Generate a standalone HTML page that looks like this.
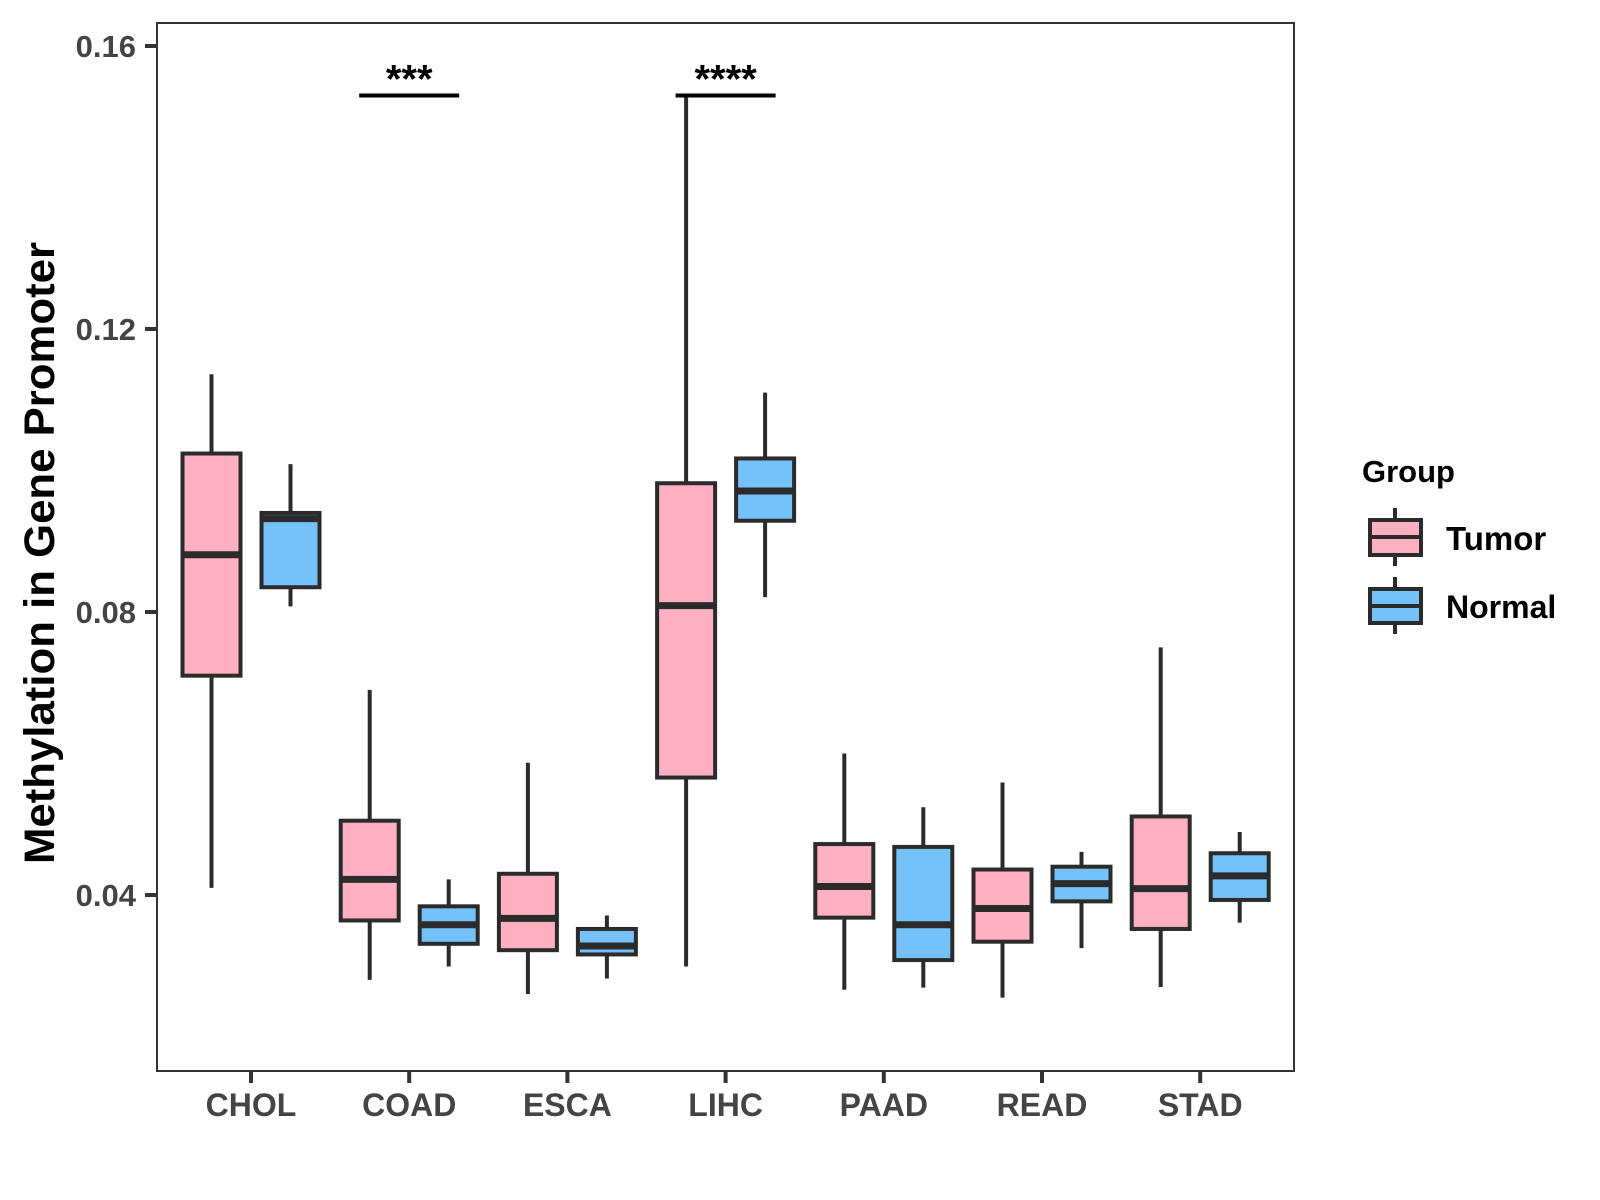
<!DOCTYPE html>
<html><head><meta charset="utf-8"><style>body{margin:0;background:#fff}svg{display:block;font-family:"Liberation Sans",Arial,sans-serif}</style></head>
<body>
<svg id="chart" width="1600" height="1200">
<rect x="0" y="0" width="1600" height="1200" fill="#fff"/>
<g id="marks"></g>
<rect x="157" y="23" width="1137" height="1048" fill="none" stroke="#333" stroke-width="2"/>
<g id="axes"></g>
<text x="54" y="553" transform="rotate(-90 54 553)" text-anchor="middle" font-size="43" font-weight="bold" fill="#000" textLength="622" lengthAdjust="spacingAndGlyphs">Methylation in Gene Promoter</text>
<g>
<text x="1362" y="482" font-size="31" font-weight="bold">Group</text>
<g>
<line x1="1395" y1="508" x2="1395" y2="566" stroke="#2b2b2b" stroke-width="4"/>
<rect x="1370" y="520" width="51" height="35" fill="#FFB0C1" stroke="#2b2b2b" stroke-width="4"/>
<line x1="1370" y1="537" x2="1421" y2="537" stroke="#2b2b2b" stroke-width="4"/>
<text x="1446" y="550" font-size="33" font-weight="bold">Tumor</text></g>
<g>
<line x1="1395" y1="577" x2="1395" y2="634" stroke="#2b2b2b" stroke-width="4"/>
<rect x="1370" y="589" width="51" height="34" fill="#75C1F9" stroke="#2b2b2b" stroke-width="4"/>
<line x1="1370" y1="606" x2="1421" y2="606" stroke="#2b2b2b" stroke-width="4"/>
<text x="1446" y="618" font-size="32" font-weight="bold">Normal</text></g>
</g>
</svg>
<script>
const categories=["CHOL","COAD","ESCA","LIHC","PAAD","READ","STAD"];
// [lowerWhisker, Q1, median, Q3, upperWhisker]
const tumorStats=[[0.0410,0.0710,0.0881,0.1024,0.1136],[0.0280,0.0364,0.0422,0.0505,0.0690],[0.0260,0.0322,0.0367,0.0430,0.0587],[0.0299,0.0566,0.0809,0.0982,0.1532],[0.0266,0.0368,0.0412,0.0472,0.0600],[0.0255,0.0334,0.0381,0.0436,0.0559],[0.0270,0.0352,0.0409,0.0511,0.0750]];
const normalStats=[[0.0808,0.0835,0.0932,0.0940,0.1009],[0.0299,0.0331,0.0358,0.0384,0.0422],[0.0282,0.0316,0.0328,0.0352,0.0371],[0.0821,0.0929,0.0971,0.1017,0.1110],[0.0269,0.0308,0.0358,0.0468,0.0524],[0.0325,0.0391,0.0416,0.0440,0.0461],[0.0361,0.0393,0.0427,0.0459,0.0489]];
const yTicks=[0.04,0.08,0.12,0.16];
const yTickLabels=["0.04","0.08","0.12","0.16"];
const sigCategories=["COAD","LIHC"];
const sigLabels=["***","****"];
const sigValue=0.1530;

const NS="http://www.w3.org/2000/svg";
function y(v){return 46+(0.16-v)*7075;}
function x(i){return 251+i*158.2;}
function mk(tag,attrs,parent){const e=document.createElementNS(NS,tag);for(const k in attrs)e.setAttribute(k,attrs[k]);parent.appendChild(e);return e;}
const marks=document.getElementById('marks'),axes=document.getElementById('axes');
function box(cx,s,fill,name){
 const g=mk('g',{},marks);
 
 
 mk('line',{x1:cx,x2:cx,y1:y(s[4]),y2:y(s[0]),stroke:'#2b2b2b','stroke-width':4},g);
 mk('rect',{x:cx-29,y:y(s[3]),width:58,height:y(s[1])-y(s[3]),fill:fill,stroke:'#2b2b2b','stroke-width':4},g);
 mk('line',{x1:cx-29,x2:cx+29,y1:y(s[2]),y2:y(s[2]),stroke:'#2b2b2b','stroke-width':7},g);
}
categories.forEach((c,i)=>{
 box(x(i)-39.5,tumorStats[i],'#FFB0C1','box-tumor-'+c.toLowerCase());
 box(x(i)+39.5,normalStats[i],'#75C1F9','box-normal-'+c.toLowerCase());
 const t=mk('line',{x1:x(i),x2:x(i),y1:1071,y2:1083,stroke:'#333','stroke-width':4},axes);
 
 
 const l=mk('text',{x:x(i),y:1116,'text-anchor':'middle','font-size':32,'font-weight':'bold',fill:'#444'},axes);
 
 
 l.textContent=c;
});
yTicks.forEach((v,i)=>{
 const t=mk('line',{x1:145,x2:157,y1:y(v),y2:y(v),stroke:'#333','stroke-width':4},axes);
 
 
 const l=mk('text',{x:136,y:y(v)+11,'text-anchor':'end','font-size':31,'font-weight':'bold',fill:'#444'},axes);
 
 
 l.textContent=yTickLabels[i];
});
sigCategories.forEach((c,k)=>{
 const i=categories.indexOf(c);
 const ln=mk('line',{x1:x(i)-50,x2:x(i)+50,y1:y(sigValue),y2:y(sigValue),stroke:'#000','stroke-width':4},marks);
 
 
 const t=mk('text',{x:x(i),y:y(sigValue)-3,'text-anchor':'middle','font-size':40,'font-weight':'bold'},marks);
 
 
 t.textContent=sigLabels[k];
});
</script>
</body></html>
